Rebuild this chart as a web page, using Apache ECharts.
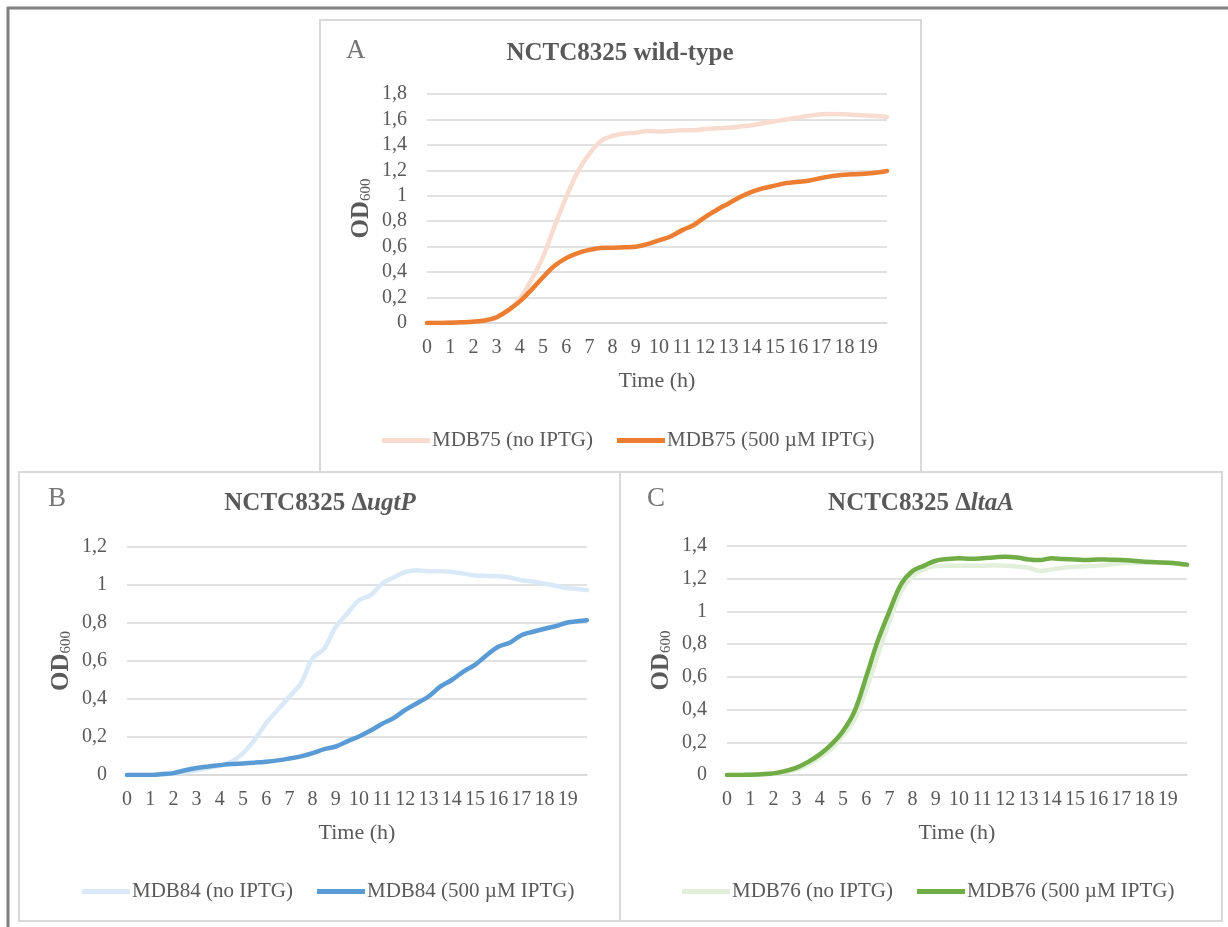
<!DOCTYPE html>
<html>
<head>
<meta charset="utf-8">
<script src="https://cdn.jsdelivr.net/npm/echarts@6/dist/echarts.min.js"></script>
<style>
html,body{margin:0;padding:0;background:#fff;}
#chart{width:1228px;height:927px;}
</style>
</head>
<body>
<div id="chart"></div>
<script>
// Time points (h)
const hours = [0,0.5,1,1.5,2,2.5,3,3.5,4,4.5,5,5.5,6,6.5,7,7.5,8,8.5,9,9.5,10,10.5,11,11.5,12,12.5,13,13.5,14,14.5,15,15.5,16,16.5,17,17.5,18,18.5,19,19.5,19.83];

// Panel A: NCTC8325 wild-type
const aNoIptg = [0,0,0.002,0.005,0.01,0.02,0.045,0.1,0.19,0.34,0.52,0.76,0.99,1.19,1.33,1.43,1.47,1.49,1.495,1.51,1.505,1.51,1.515,1.515,1.525,1.53,1.535,1.545,1.555,1.57,1.585,1.6,1.615,1.63,1.64,1.642,1.64,1.635,1.63,1.625,1.62];
const aIptg = [0,0,0.002,0.005,0.01,0.02,0.045,0.1,0.17,0.26,0.36,0.45,0.51,0.55,0.575,0.59,0.592,0.595,0.6,0.62,0.65,0.68,0.73,0.77,0.835,0.89,0.94,0.99,1.03,1.06,1.08,1.1,1.11,1.12,1.14,1.155,1.165,1.17,1.175,1.185,1.195];

// Panel B: NCTC8325 ΔugtP
const bNoIptg = [0,0,0,0.003,0.008,0.015,0.025,0.038,0.049,0.07,0.115,0.185,0.273,0.343,0.413,0.483,0.614,0.666,0.78,0.85,0.92,0.946,1.007,1.04,1.069,1.078,1.072,1.072,1.069,1.06,1.05,1.048,1.046,1.039,1.025,1.018,1.007,0.995,0.983,0.978,0.973];
const bIptg = [0,0,0,0.005,0.01,0.025,0.037,0.045,0.052,0.058,0.061,0.065,0.07,0.077,0.087,0.098,0.115,0.136,0.15,0.177,0.203,0.234,0.27,0.3,0.343,0.378,0.413,0.465,0.5,0.544,0.58,0.63,0.675,0.696,0.736,0.754,0.77,0.784,0.803,0.81,0.815];

// Panel C: NCTC8325 ΔltaA
const cNoIptg = [0,0,0.002,0.004,0.008,0.018,0.035,0.065,0.106,0.16,0.24,0.34,0.52,0.73,0.94,1.12,1.215,1.257,1.277,1.28,1.28,1.28,1.28,1.282,1.28,1.275,1.267,1.247,1.257,1.267,1.273,1.277,1.28,1.287,1.294,1.296,1.298,1.298,1.298,1.292,1.286];
const cIptg = [0,0,0.002,0.005,0.01,0.024,0.045,0.08,0.126,0.187,0.268,0.39,0.6,0.82,1.0,1.165,1.247,1.28,1.31,1.32,1.325,1.322,1.325,1.33,1.335,1.33,1.318,1.314,1.325,1.32,1.318,1.314,1.318,1.316,1.314,1.31,1.304,1.3,1.298,1.292,1.286];

const legendA = ['MDB75 (no IPTG)', 'MDB75 (500 µM IPTG)'];
const legendB = ['MDB84 (no IPTG)', 'MDB84 (500 µM IPTG)'];
const legendC = ['MDB76 (no IPTG)', 'MDB76 (500 µM IPTG)'];
const yMax = [1.8, 1.2, 1.4];

const FONT = "'Liberation Serif','Times New Roman',serif";
const TXT = '#595959';

const grids = [
  {left:427, top:94, width:460, height:229},
  {left:127, top:547, width:460, height:228},
  {left:727, top:546, width:460, height:229}
];

function xAx(i){
  return {
    type:'value', gridIndex:i, min:0, max:hours[hours.length-1], interval:1,
    name:'Time (h)', nameLocation:'middle', nameGap:47,
    nameTextStyle:{fontFamily:FONT, fontSize:22, color:TXT},
    axisLine:{show:true, lineStyle:{color:'#d9d9d9', width:1.5}},
    axisTick:{show:false}, splitLine:{show:false},
    axisLabel:{margin:15, fontFamily:FONT, fontSize:20, color:TXT, showMaxLabel:false,
      formatter:v => (Math.abs(v-Math.round(v))<1e-6 ? String(Math.round(v)) : '')}
  };
}
function yAx(i){
  return {
    type:'value', gridIndex:i, min:0, max:yMax[i], interval:0.2,
    name:'{a|OD}{s|600}', nameLocation:'middle', nameGap:53, nameRotate:90,
    nameTextStyle:{rich:{
      a:{fontFamily:FONT, fontSize:25, fontWeight:'bold', color:TXT},
      s:{fontFamily:FONT, fontSize:15, color:TXT, padding:[9,0,0,0]}
    }},
    axisLine:{show:false}, axisTick:{show:false},
    splitLine:{show:true, lineStyle:{color:'#d9d9d9', width:1.5}},
    axisLabel:{margin:20, fontFamily:FONT, fontSize:20, color:TXT,
      formatter:v => String(Math.round(v*10)/10).replace('.', ',')}
  };
}
function ser(name, i, arr, color, z){
  return {
    name:name, type:'line', xAxisIndex:i, yAxisIndex:i,
    data:hours.map((h,k)=>[h, arr[k]]),
    symbol:'none', smooth:0.35,
    lineStyle:{width:4.5, color:color, cap:'round', join:'round'}, itemStyle:{color:color}, z:z
  };
}
function leg(names, left, top){
  return {
    data:names, left:left, top:top, icon:'rect', itemWidth:48, itemHeight:5, itemGap:24,
    textStyle:{fontFamily:FONT, fontSize:21, color:TXT, padding:[0,0,0,-3]}
  };
}
const titleRich = {
  b:{fontFamily:FONT, fontSize:25, fontWeight:'bold', color:TXT},
  d:{fontFamily:FONT, fontSize:25, color:TXT},
  i:{fontFamily:FONT, fontSize:25, fontWeight:'bold', fontStyle:'italic', color:TXT}
};
function ttl(text, cx, top){
  return {text:text, left:cx, top:top, textAlign:'center', padding:0,
    textStyle:{rich:titleRich, fontFamily:FONT, fontSize:25, fontWeight:'bold', color:TXT}};
}
function letter(t, x, y){
  return {type:'text', left:x, top:y, style:{text:t, font:'27px ' + FONT, fill:'#767676'}};
}
function box(x, y, w, h){
  return {type:'rect', shape:{x:x, y:y, width:w, height:h}, style:{fill:null, stroke:'#d9d9d9', lineWidth:2}, z:-1};
}

const chart = echarts.init(document.getElementById('chart'), null, {renderer:'canvas'});
chart.setOption({
  backgroundColor:'#ffffff',
  animation:false,
  title:[
    ttl('{b|NCTC8325 wild-type}', 620, 41),
    ttl('{b|NCTC8325 }{d|Δ}{i|ugtP}', 320, 491),
    ttl('{b|NCTC8325 }{d|Δ}{i|ltaA}', 921, 491)
  ],
  grid:grids,
  xAxis:[xAx(0), xAx(1), xAx(2)],
  yAxis:[yAx(0), yAx(1), yAx(2)],
  legend:[leg(legendA, 377, 425), leg(legendB, 77, 876), leg(legendC, 677, 876)],
  series:[
    ser(legendA[0], 0, aNoIptg, '#F8DCCF', 2),
    ser(legendA[1], 0, aIptg, '#ED7D31', 3),
    ser(legendB[0], 1, bNoIptg, '#DAE9F7', 2),
    ser(legendB[1], 1, bIptg, '#5B9BD5', 3),
    ser(legendC[0], 2, cNoIptg, '#E2EFDA', 2),
    ser(legendC[1], 2, cIptg, '#70AD47', 3)
  ],
  graphic:[
    {type:'line', shape:{x1:7, y1:8, x2:1228, y2:8}, style:{stroke:'#808080', lineWidth:3}},
    {type:'line', shape:{x1:8, y1:7, x2:8, y2:927}, style:{stroke:'#808080', lineWidth:3}},
    box(320, 20, 601, 452),
    box(19, 472, 601, 449),
    box(620, 472, 602, 449),
    letter('A', 346, 37),
    letter('B', 48, 485),
    letter('C', 647, 485)
  ]
});
</script>
</body>
</html>
